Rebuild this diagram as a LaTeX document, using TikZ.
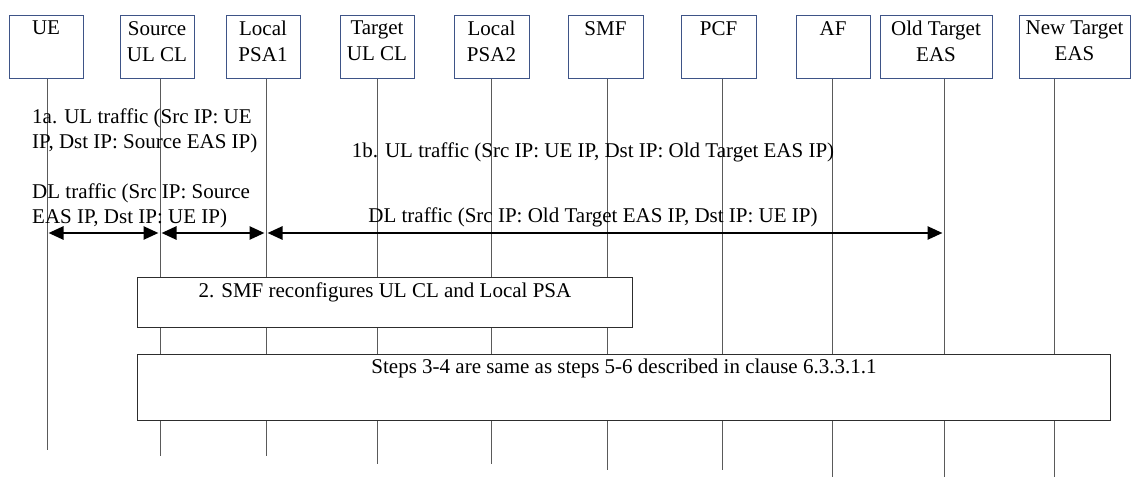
\documentclass[tikz,border=0pt]{standalone}
\usepackage{fontspec}
\setmainfont{Liberation Serif}
\usetikzlibrary{arrows.meta}
\definecolor{boxblue}{RGB}{62,84,135}
\definecolor{lifegray}{RGB}{90,90,90}
\definecolor{stepgray}{RGB}{45,45,45}

\tikzset{
	actor/.style={draw=boxblue, line width=0.9pt, fill=white, minimum height=63pt, anchor=north, inner sep=0pt},
	actorlbl/.style={anchor=north, align=center, inner sep=0pt},
	life/.style={draw=lifegray, line width=0.9pt},
	msg/.style={line width=2.6pt, {Triangle[length=15pt,width=13pt]}-{Triangle[length=15pt,width=13pt]}, shorten <=1.5pt, shorten >=1.5pt},
	msglbl/.style={inner sep=0pt},
	stepbox/.style={draw=stepgray, line width=0.9pt, fill=white, anchor=north west, inner sep=0pt},
}

\begin{document}
\begin{tikzpicture}[x=1pt, y=-1pt, font=\fontsize{21}{25}\selectfont]
		\useasboundingbox (0,0) rectangle (1131,476);
		% entities: name / box centre / box width / lifeline shift / lifeline length / text
		\foreach \n/\cx/\w/\dx/\len/\t in {
			ue/46/74/1/371/UE,
			src/157/74/3/377/{Source\\UL CL},
			psa1/263/74/3/377/{Local\\PSA1},
			tul/377/74/0/385/{Target\\UL CL},
			psa2/491.5/75/-0.5/385/{Local\\PSA2},
			smf/605.5/75/1.5/391/SMF,
			pcf/718.5/75/3.5/391/PCF,
			af/833/74/-1/400/AF,
			old/936/112/8/400/{Old Target\\EAS},
			new/1074.5/111/-20.5/400/{New Target\\EAS}} {
			\node[actor, minimum width=\w pt] (\n) at (\cx,15) {};
			\node[actorlbl, font=\fontsize{21}{26}\selectfont] (\n-lbl) at ([yshift=-6pt]\n.north) {\t};
			\coordinate (\n-t) at ([xshift=\dx pt]\n.south);
			\coordinate (\n-b) at ([xshift=\dx pt, yshift=-\len pt]\n.south);
			\draw[life] (\n-t) -- (\n-b);
		}

		\coordinate (arr) at (0,233);
		\draw[msg] (ue-t |- arr) -- (src-t |- arr);
		\draw[msg] (src-t |- arr) -- (psa1-t |- arr);
		\draw[msg] (psa1-t |- arr) -- (old-t |- arr);

		\node[msglbl, anchor=base west, align=left] (m1a) at (32,148) {1a. UL traffic (Src IP: UE\\IP, Dst IP: Source EAS IP)};
		\node[msglbl, anchor=base west, align=left] (dl1) at (32,223) {DL traffic (Src IP: Source\\EAS IP, Dst IP: UE IP)};
		\node[msglbl, anchor=base] (m1b) at (593,157) {1b. UL traffic (Src IP: UE IP, Dst IP: Old Target EAS IP)};
		\node[msglbl, anchor=base] (dl2) at (593,222) {DL traffic (Src IP: Old Target EAS IP, Dst IP: UE IP)};

		\node[stepbox, minimum width=495pt, minimum height=50pt] (s2) at (137,277) {};
		\node[msglbl, anchor=base] (s2-lbl) at ([yshift=-20pt]s2.north) {2. SMF reconfigures UL CL and Local PSA};
		\node[stepbox, minimum width=973pt, minimum height=66pt] (s34) at (137,354) {};
		\node[msglbl, anchor=base] (s34-lbl) at ([yshift=-19pt]s34.north) {Steps 3-4 are same as steps 5-6 described in clause 6.3.3.1.1};
	\end{tikzpicture}
\end{document}
